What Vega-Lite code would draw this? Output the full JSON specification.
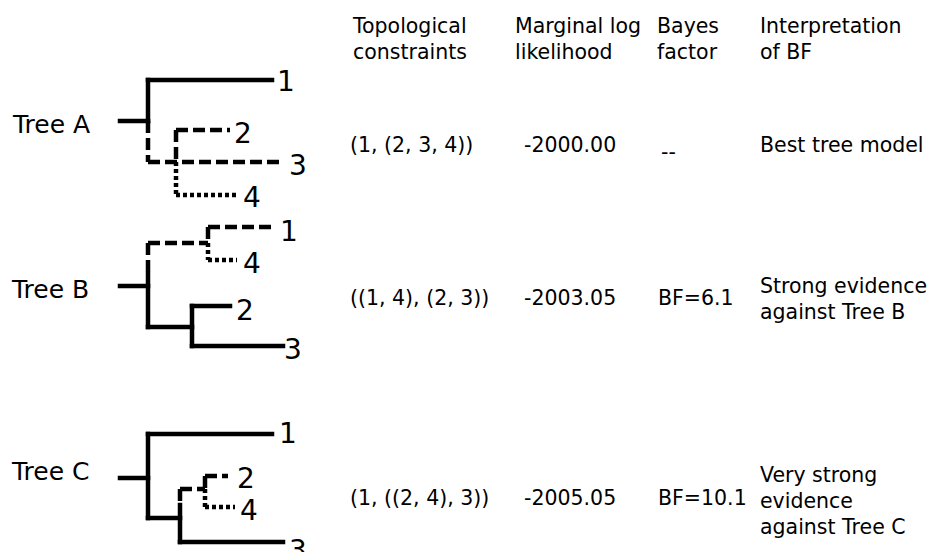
{
  "$schema": "https://vega.github.io/schema/vega-lite/v6.json",
  "width": 930,
  "height": 552,
  "padding": 0,
  "autosize": {"type": "fit", "contains": "padding"},
  "background": "white",
  "config": {"view": {"stroke": null}, "text": {"font": "DejaVu Sans", "color": "black"}},
  "datasets": {
    "branches": [
      {"tree": "A", "x": 120, "y": 121, "x2": 148, "y2": 121, "style": "solid"},
      {"tree": "A", "x": 148, "y": 80, "x2": 148, "y2": 121, "style": "solid"},
      {"tree": "A", "x": 148, "y": 121, "x2": 148, "y2": 162, "style": "dashed"},
      {"tree": "A", "x": 148, "y": 80, "x2": 272, "y2": 80, "style": "solid"},
      {"tree": "A", "x": 148, "y": 162, "x2": 282, "y2": 162, "style": "dashed"},
      {"tree": "A", "x": 176, "y": 130, "x2": 176, "y2": 162, "style": "dashed"},
      {"tree": "A", "x": 176, "y": 162, "x2": 176, "y2": 195, "style": "dotted"},
      {"tree": "A", "x": 176, "y": 130, "x2": 230, "y2": 130, "style": "dashed"},
      {"tree": "A", "x": 176, "y": 195, "x2": 236, "y2": 195, "style": "dotted"},
      {"tree": "B", "x": 120, "y": 286, "x2": 148, "y2": 286, "style": "solid"},
      {"tree": "B", "x": 148, "y": 243, "x2": 148, "y2": 272, "style": "dashed"},
      {"tree": "B", "x": 148, "y": 274, "x2": 148, "y2": 327, "style": "solid"},
      {"tree": "B", "x": 148, "y": 243, "x2": 208, "y2": 243, "style": "dashed"},
      {"tree": "B", "x": 208, "y": 227, "x2": 208, "y2": 243, "style": "dashed"},
      {"tree": "B", "x": 208, "y": 243, "x2": 208, "y2": 260, "style": "dotted"},
      {"tree": "B", "x": 208, "y": 227, "x2": 272, "y2": 227, "style": "dashed"},
      {"tree": "B", "x": 208, "y": 260, "x2": 237, "y2": 260, "style": "dotted"},
      {"tree": "B", "x": 148, "y": 327, "x2": 192, "y2": 327, "style": "solid"},
      {"tree": "B", "x": 192, "y": 306, "x2": 192, "y2": 346, "style": "solid"},
      {"tree": "B", "x": 192, "y": 306, "x2": 230, "y2": 306, "style": "solid"},
      {"tree": "B", "x": 192, "y": 346, "x2": 283, "y2": 346, "style": "solid"},
      {"tree": "C", "x": 120, "y": 478, "x2": 148, "y2": 478, "style": "solid"},
      {"tree": "C", "x": 148, "y": 434, "x2": 148, "y2": 518, "style": "solid"},
      {"tree": "C", "x": 148, "y": 434, "x2": 272, "y2": 434, "style": "solid"},
      {"tree": "C", "x": 148, "y": 518, "x2": 180, "y2": 518, "style": "solid"},
      {"tree": "C", "x": 180, "y": 489, "x2": 180, "y2": 501, "style": "dashed"},
      {"tree": "C", "x": 180, "y": 505, "x2": 180, "y2": 542, "style": "solid"},
      {"tree": "C", "x": 180, "y": 542, "x2": 283, "y2": 542, "style": "solid"},
      {"tree": "C", "x": 180, "y": 489, "x2": 205, "y2": 489, "style": "dashed"},
      {"tree": "C", "x": 205, "y": 476, "x2": 205, "y2": 489, "style": "dashed"},
      {"tree": "C", "x": 205, "y": 489, "x2": 205, "y2": 507, "style": "dotted"},
      {"tree": "C", "x": 205, "y": 476, "x2": 228, "y2": 476, "style": "dashed"},
      {"tree": "C", "x": 205, "y": 507, "x2": 235, "y2": 507, "style": "dotted"}
    ],
    "tips": [
      {"tree": "A", "label": "1", "x": 277, "y": 83},
      {"tree": "A", "label": "2", "x": 234, "y": 135},
      {"tree": "A", "label": "3", "x": 289, "y": 167},
      {"tree": "A", "label": "4", "x": 243, "y": 199},
      {"tree": "B", "label": "1", "x": 280, "y": 233},
      {"tree": "B", "label": "4", "x": 243, "y": 265},
      {"tree": "B", "label": "2", "x": 236, "y": 312},
      {"tree": "B", "label": "3", "x": 284, "y": 351},
      {"tree": "C", "label": "1", "x": 279, "y": 435},
      {"tree": "C", "label": "2", "x": 237, "y": 480},
      {"tree": "C", "label": "4", "x": 240, "y": 512},
      {"tree": "C", "label": "3", "x": 289, "y": 552}
    ],
    "trees": [
      {"name": "Tree A", "x": 13, "y": 124.5},
      {"name": "Tree B", "x": 12, "y": 289.5},
      {"name": "Tree C", "x": 12, "y": 471.5}
    ],
    "headers": [
      {"col": 1, "row": 0, "text": "Topological\nconstraints"},
      {"col": 2, "row": 0, "text": "Marginal log\nlikelihood"},
      {"col": 3, "row": 0, "text": "Bayes\nfactor"},
      {"col": 4, "row": 0, "text": "Interpretation\nof BF"}
    ],
    "cells": [
      {"col": 1, "row": 1, "text": "(1, (2, 3, 4))"},
      {"col": 2, "row": 1, "text": "-2000.00"},
      {"col": 1, "row": 2, "text": "((1, 4), (2, 3))"},
      {"col": 2, "row": 2, "text": "-2003.05"},
      {"col": 3, "row": 2, "text": "BF=6.1"},
      {"col": 1, "row": 3, "text": "(1, ((2, 4), 3))"},
      {"col": 2, "row": 3, "text": "-2005.05"},
      {"col": 3, "row": 3, "text": "BF=10.1"}
    ],
    "noBF": [
      {"col": 3, "row": 1, "text": "--"}
    ],
    "interpretation": [
      {"row": 1, "text": "Best tree model"},
      {"row": 2, "text": "Strong evidence\nagainst Tree B"},
      {"row": 3, "text": "Very strong\nevidence\nagainst Tree C"}
    ]
  },
  "resolve": {"scale": {"x": "independent", "y": "independent"}},
  "layer": [
    {
      "data": {"name": "branches"},
      "transform": [{"filter": "datum.style === 'solid'"}],
      "mark": {"type": "rule", "strokeWidth": 4.5, "strokeCap": "square", "color": "black"},
      "encoding": {
        "x": {"field": "x", "type": "quantitative", "scale": {"domain": [0, 930], "range": [0, 930], "nice": false, "zero": false}, "axis": null},
        "y": {"field": "y", "type": "quantitative", "scale": {"domain": [0, 552], "range": [0, 552], "nice": false, "zero": false}, "axis": null},
        "x2": {"field": "x2"},
        "y2": {"field": "y2"}
      }
    },
    {
      "data": {"name": "branches"},
      "transform": [{"filter": "datum.style === 'dashed'"}],
      "mark": {"type": "rule", "strokeWidth": 4.5, "strokeCap": "butt", "strokeDash": [12, 5], "color": "black"},
      "encoding": {
        "x": {"field": "x", "type": "quantitative", "scale": {"domain": [0, 930], "range": [0, 930], "nice": false, "zero": false}, "axis": null},
        "y": {"field": "y", "type": "quantitative", "scale": {"domain": [0, 552], "range": [0, 552], "nice": false, "zero": false}, "axis": null},
        "x2": {"field": "x2"},
        "y2": {"field": "y2"}
      }
    },
    {
      "data": {"name": "branches"},
      "transform": [{"filter": "datum.style === 'dotted'"}],
      "mark": {"type": "rule", "strokeWidth": 4.5, "strokeCap": "butt", "strokeDash": [4, 3], "color": "black"},
      "encoding": {
        "x": {"field": "x", "type": "quantitative", "scale": {"domain": [0, 930], "range": [0, 930], "nice": false, "zero": false}, "axis": null},
        "y": {"field": "y", "type": "quantitative", "scale": {"domain": [0, 552], "range": [0, 552], "nice": false, "zero": false}, "axis": null},
        "x2": {"field": "x2"},
        "y2": {"field": "y2"}
      }
    },
    {
      "data": {"name": "tips"},
      "mark": {"type": "text", "fontSize": 28, "align": "left", "baseline": "middle"},
      "encoding": {
        "x": {"field": "x", "type": "quantitative", "scale": {"domain": [0, 930], "range": [0, 930], "nice": false, "zero": false}, "axis": null},
        "y": {"field": "y", "type": "quantitative", "scale": {"domain": [0, 552], "range": [0, 552], "nice": false, "zero": false}, "axis": null},
        "text": {"field": "label"}
      }
    },
    {
      "data": {"name": "trees"},
      "mark": {"type": "text", "fontSize": 25, "align": "left", "baseline": "middle"},
      "encoding": {
        "x": {"field": "x", "type": "quantitative", "scale": {"domain": [0, 930], "range": [0, 930], "nice": false, "zero": false}, "axis": null},
        "y": {"field": "y", "type": "quantitative", "scale": {"domain": [0, 552], "range": [0, 552], "nice": false, "zero": false}, "axis": null},
        "text": {"field": "name"}
      }
    },
    {
      "data": {"name": "headers"},
      "mark": {"type": "text", "fontSize": 20.5, "align": "left", "baseline": "middle", "lineBreak": "\n", "lineHeight": 26},
      "encoding": {
        "x": {"field": "col", "type": "quantitative", "scale": {"domain": [1, 2, 3, 4], "range": [353, 515, 657, 760], "nice": false, "zero": false}, "axis": null},
        "y": {"field": "row", "type": "quantitative", "scale": {"domain": [0, 1], "range": [27, 146], "nice": false, "zero": false}, "axis": null},
        "text": {"field": "text"}
      }
    },
    {
      "data": {"name": "cells"},
      "mark": {"type": "text", "fontSize": 20.5, "align": "left", "baseline": "middle"},
      "encoding": {
        "x": {"field": "col", "type": "quantitative", "scale": {"domain": [1, 2, 3], "range": [350, 524, 658], "nice": false, "zero": false}, "axis": null},
        "y": {"field": "row", "type": "quantitative", "scale": {"domain": [1, 2, 3], "range": [146, 299, 499], "nice": false, "zero": false}, "axis": null},
        "text": {"field": "text"}
      }
    },
    {
      "data": {"name": "noBF"},
      "mark": {"type": "text", "fontSize": 20.5, "align": "left", "baseline": "middle", "dy": 7},
      "encoding": {
        "x": {"field": "col", "type": "quantitative", "scale": {"domain": [1, 2, 3], "range": [350, 524, 661], "nice": false, "zero": false}, "axis": null},
        "y": {"field": "row", "type": "quantitative", "scale": {"domain": [1, 2, 3], "range": [146, 299, 499], "nice": false, "zero": false}, "axis": null},
        "text": {"field": "text"}
      }
    },
    {
      "data": {"name": "interpretation"},
      "mark": {"type": "text", "fontSize": 20.5, "align": "left", "baseline": "middle", "lineBreak": "\n", "lineHeight": 26, "x": 760},
      "encoding": {
        "y": {"field": "row", "type": "quantitative", "scale": {"domain": [1, 2, 3], "range": [146, 287, 476], "nice": false, "zero": false}, "axis": null},
        "text": {"field": "text"}
      }
    }
  ]
}
